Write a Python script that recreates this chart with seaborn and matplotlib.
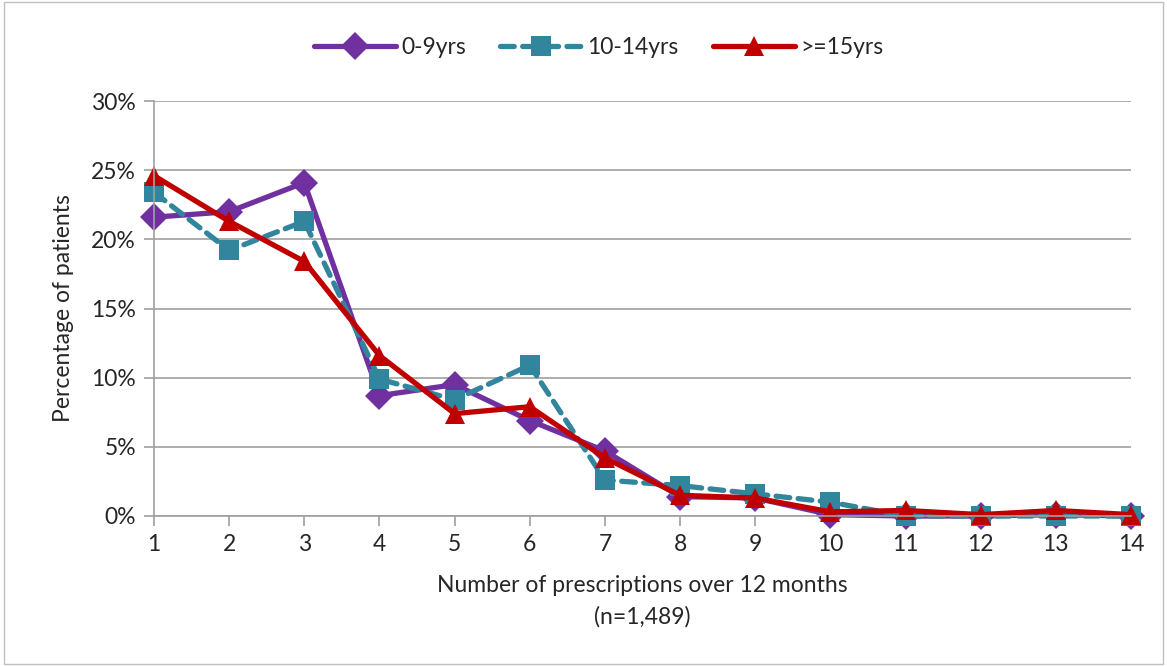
import pandas as pd
import numpy as np
import matplotlib
matplotlib.use('Agg')
import matplotlib.pyplot as plt
import seaborn as sns
from matplotlib.patches import Rectangle
from matplotlib.ticker import PercentFormatter

prescriptions = list(range(1, 15))
age_groups = ['0-9yrs', '10-14yrs', '>=15yrs']
pct_0_9 = [21.6, 22.0, 24.1, 8.7, 9.5, 6.9, 4.7, 1.4, 1.3, 0.1, 0.0, 0.0, 0.1, 0.0]
pct_10_14 = [23.4, 19.2, 21.3, 9.9, 8.4, 10.9, 2.6, 2.2, 1.6, 1.0, 0.0, 0.0, 0.0, 0.0]
pct_15_plus = [24.6, 21.3, 18.4, 11.6, 7.4, 7.9, 4.2, 1.5, 1.3, 0.3, 0.4, 0.1, 0.4, 0.1]

df = pd.DataFrame({
    'n': prescriptions * 3,
    'pct': pct_0_9 + pct_10_14 + pct_15_plus,
    'group': np.repeat(age_groups, len(prescriptions)),
})

palette = {'0-9yrs': '#7030A0', '10-14yrs': '#31859C', '>=15yrs': '#C00000'}
markers = {'0-9yrs': 'D', '10-14yrs': 's', '>=15yrs': '^'}
dashes = {'0-9yrs': '', '10-14yrs': (2.6, 1.6), '>=15yrs': ''}

sns.set_style('white')
plt.rcParams['font.family'] = ['Lato', 'DejaVu Sans']
fs = 16.5

fig, ax = plt.subplots(figsize=(11.67, 6.66), dpi=100)
fig.subplots_adjust(left=154/1167, right=1131/1167, top=1-101/666, bottom=1-516/666)

sns.lineplot(data=df, x='n', y='pct', hue='group', style='group',
             palette=palette, markers=markers, dashes=dashes,
             linewidth=3.8, markersize=14, markeredgewidth=0, ax=ax)
for line in ax.lines:
    line.set_clip_on(False)
    line.set_dash_capstyle('round')
    line.set_solid_capstyle('round')

ax.set_xlim(1, 14)
ax.set_ylim(0, 30)
ax.set_xticks(prescriptions)
ax.set_yticks([0, 5, 10, 15, 20, 25, 30])
ax.yaxis.set_major_formatter(PercentFormatter(decimals=0))
ax.grid(axis='y', color='#A0A0A0', linewidth=1.2)
ax.set_axisbelow(True)
for s in ['top', 'right']:
    ax.spines[s].set_visible(False)
for s in ['left', 'bottom']:
    ax.spines[s].set_color('#A0A0A0')
    ax.spines[s].set_linewidth(1.2)
ax.tick_params(axis='both', which='both', length=7, width=1.2, color='#A0A0A0',
               labelsize=fs, direction='out', pad=6)
ax.tick_params(left=True, bottom=True)
ax.set_xlabel('Number of prescriptions over 12 months\n(n=1,489)', fontsize=fs,
              labelpad=14, linespacing=1.6)
ax.set_ylabel('Percentage of patients', fontsize=fs, labelpad=12)

leg = ax.legend(loc='upper center', bbox_to_anchor=(0.455, 1.205), ncol=3, frameon=False,
                fontsize=fs, handlelength=3.6, columnspacing=1.5, handletextpad=0.2)
leg.set_title(None)

fig.patches.append(Rectangle((0.003, 0.003), 0.994, 0.994, transform=fig.transFigure,
                             fill=False, edgecolor='#BFBFBF', linewidth=1))

plt.savefig('out.png', dpi=100)
plt.close()
